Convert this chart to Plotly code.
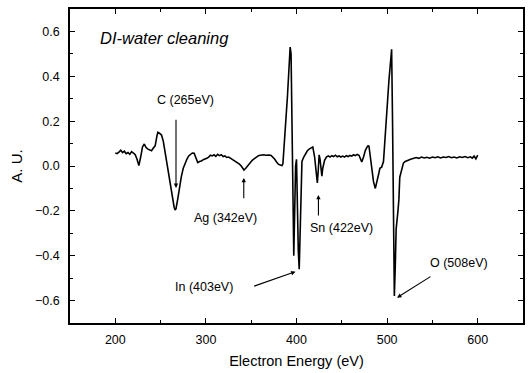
import plotly.graph_objects as go

energy = [200, 202, 204, 206, 208, 210, 212, 214, 216, 218, 220, 222, 224, 226, 228, 230, 232, 234, 236, 238,
          240, 242, 244, 246, 247, 249, 251, 253, 255, 257, 259, 261, 263, 265, 266, 267, 269, 271, 273, 275,
          277, 279, 281, 283, 285, 287, 289, 291, 293, 295, 297, 299, 301, 303, 305, 307, 309, 311, 313, 315,
          317, 319, 321, 323, 325, 327, 329, 331, 333, 335, 337, 339, 341, 342, 344, 346, 348, 350, 352, 354,
          356, 358, 360, 362, 364, 366, 368, 370, 372, 374, 376, 378, 380, 382, 384, 385, 387, 389, 390, 392,
          393, 394, 395, 396, 397, 398, 399, 400, 401, 402, 403, 404, 405, 406, 408, 410, 412, 414, 416, 418,
          420, 421, 422, 423, 424, 425, 426, 427, 428, 429, 431, 433, 435, 437, 439, 441, 443, 445, 447, 449,
          451, 453, 455, 457, 459, 461, 463, 465, 467, 469, 471, 472, 474, 476, 478, 479, 480, 481, 483, 485,
          487, 489, 491, 492, 494, 496, 498, 500, 502, 504, 505, 506, 507, 508, 509, 510, 512, 513, 514, 516,
          518, 520, 522, 524, 526, 528, 530, 532, 535, 538, 541, 544, 547, 550, 553, 556, 559, 562, 565, 568,
          571, 574, 577, 580, 583, 586, 589, 592, 594, 596, 598, 600]

signal = [0.058, 0.055, 0.062, 0.070, 0.060, 0.066, 0.055, 0.060, 0.052, 0.064, 0.058, 0.050, 0.030, 0.002, 0.040, 0.085, 0.098, 0.082, 0.075, 0.072,
          0.068, 0.080, 0.090, 0.135, 0.150, 0.145, 0.138, 0.110, 0.060, 0.010, -0.040, -0.095, -0.145, -0.185, -0.196, -0.190, -0.145, -0.090, -0.045, -0.010,
          0.012, 0.030, 0.045, 0.052, 0.058, 0.057, 0.035, 0.015, 0.020, 0.022, 0.028, 0.030, 0.034, 0.040, 0.048, 0.045, 0.050, 0.043, 0.052, 0.046,
          0.050, 0.042, 0.045, 0.038, 0.040, 0.035, 0.030, 0.025, 0.020, 0.012, 0.008, 0.000, -0.012, -0.018, -0.010, 0.002, 0.012, 0.020, 0.028, 0.035,
          0.042, 0.046, 0.048, 0.050, 0.050, 0.048, 0.050, 0.049, 0.047, 0.040, 0.030, 0.018, 0.008, 0.004, 0.002, 0.010, 0.110, 0.250, 0.310, 0.460,
          0.530, 0.500, 0.160, -0.200, -0.400, -0.200, 0.000, 0.030, -0.200, -0.380, -0.460, -0.250, -0.020, 0.020, 0.040, 0.055, 0.068, 0.075, 0.080, 0.085,
          0.040, 0.000, -0.050, -0.075, -0.020, 0.050, 0.030, -0.030, -0.045, -0.010, 0.025, 0.040, 0.045, 0.040, 0.046, 0.042, 0.048, 0.041, 0.045, 0.040,
          0.044, 0.040, 0.046, 0.042, 0.047, 0.044, 0.050, 0.046, 0.052, 0.048, 0.030, 0.018, 0.040, 0.070, 0.085, 0.090, 0.088, 0.060, -0.010, -0.070,
          -0.100, -0.070, -0.030, -0.010, -0.005, 0.020, 0.160, 0.260, 0.380, 0.500, 0.520, 0.200, -0.200, -0.580, -0.450, -0.280, -0.200, -0.150, -0.050, -0.010,
          0.013, 0.020, 0.025, 0.027, 0.030, 0.033, 0.035, 0.038, 0.034, 0.040, 0.036, 0.039, 0.035, 0.040, 0.037, 0.041, 0.036, 0.040, 0.038, 0.042,
          0.037, 0.040, 0.036, 0.041, 0.038, 0.042, 0.037, 0.041, 0.035, 0.044, 0.032, 0.048]

x_ticks = [200, 300, 400, 500, 600]
y_ticks = [-0.6, -0.4, -0.2, 0.0, 0.2, 0.4, 0.6]

FONT = "Arial, Liberation Sans, sans-serif"

fig = go.Figure()
fig.add_trace(go.Scatter(x=energy, y=signal, mode="lines",
                         line=dict(color="black", width=1.6), showlegend=False))

ann = []
def label(text, x, y, size=12.5):
    ann.append(dict(x=x, y=y, xref="x", yref="y", text=text, showarrow=False,
                    font=dict(family=FONT, size=size, color="black")))

def arrow(x, y, ax, ay):
    ann.append(dict(x=x, y=y, ax=ax, ay=ay, xref="x", yref="y", axref="x", ayref="y",
                    text="", showarrow=True, arrowhead=2, arrowsize=0.8, arrowwidth=1.1,
                    arrowcolor="black", standoff=0))

ann.append(dict(x=181, y=0.569, xref="x", yref="y", xanchor="left", text="<i>DI-water cleaning</i>",
                showarrow=False, font=dict(family=FONT, size=16.5, color="black")))
label("C (265eV)", 277.5, 0.293)
arrow(267, -0.098, 267, 0.213)
label("Ag (342eV)", 322, -0.231)
arrow(341.8, -0.053, 341.8, -0.151)
label("Sn (422eV)", 450, -0.276)
arrow(424.2, -0.129, 424.2, -0.227)
label("In (403eV)", 297.8, -0.538)
arrow(398.9, -0.471, 351.6, -0.538)
label("O (508eV)", 579.7, -0.431)
arrow(511, -0.587, 549.5, -0.489)

axis_common = dict(showline=True, linecolor="black", linewidth=1.5, mirror="ticks",
                   ticks="inside", ticklen=5, tickwidth=1.3, tickcolor="black",
                   showgrid=False, zeroline=False,
                   tickfont=dict(family=FONT, size=12.5, color="black"))

fig.update_xaxes(range=[150, 650], tickvals=x_ticks, ticklabelstandoff=4,
                 minor=dict(ticks="inside", dtick=50, ticklen=3, tickcolor="black", tickwidth=1),
                 title=dict(text="Electron Energy (eV)", font=dict(family=FONT, size=14.5, color="black"), standoff=10),
                 **axis_common)
fig.update_yaxes(range=[-0.7, 0.7], tickvals=y_ticks, tickformat=".1f", ticklabelstandoff=6,
                 minor=dict(ticks="inside", dtick=0.1, ticklen=3, tickcolor="black", tickwidth=1),
                 title=dict(text="A. U.", font=dict(family=FONT, size=15, color="black"), standoff=9),
                 **axis_common)

fig.update_layout(width=530, height=373, margin=dict(l=70, r=5, t=9, b=50),
                  paper_bgcolor="white", plot_bgcolor="white", annotations=ann)

fig.write_html("out.html")
